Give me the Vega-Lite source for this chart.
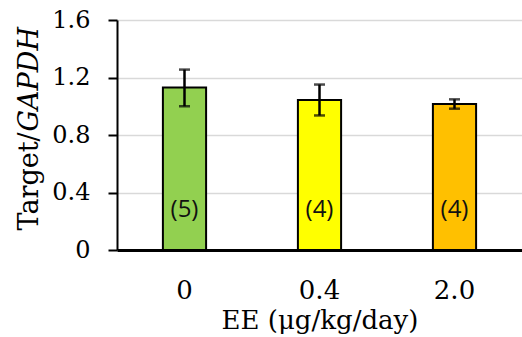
{
  "$schema": "https://vega.github.io/schema/vega-lite/v6.json",
  "width": 405,
  "height": 230,
  "autosize": {"type": "none"},
  "padding": {"left": 117, "top": 20, "right": 0, "bottom": 87},
  "background": "white",
  "config": {
    "view": {"stroke": null},
    "font": "DejaVu Serif"
  },
  "data": {
    "values": [
      {"dose": "0", "mean": 1.13, "lo": 1.0, "hi": 1.255, "n": "(5)"},
      {"dose": "0.4", "mean": 1.043, "lo": 0.936, "hi": 1.151, "n": "(4)"},
      {"dose": "2.0", "mean": 1.016, "lo": 0.983, "hi": 1.048, "n": "(4)"}
    ]
  },
  "encoding": {
    "x": {
      "field": "dose",
      "type": "nominal",
      "sort": ["0", "0.4", "2.0"],
      "scale": {"paddingInner": 0.68, "paddingOuter": 0.34},
      "axis": {
        "title": "EE (μg/kg/day)",
        "labelAngle": 0,
        "labelFont": "DejaVu Serif",
        "labelFontSize": 26,
        "labelColor": "black",
        "labelBaseline": "alphabetic",
        "labelPadding": 48,
        "ticks": false,
        "tickSize": 0,
        "domainColor": "black",
        "domainWidth": 3,
        "titleFont": "DejaVu Serif",
        "titleFontSize": 26,
        "titleFontWeight": "normal",
        "titleColor": "black",
        "titleBaseline": "alphabetic",
        "titleY": 78
      }
    }
  },
  "layer": [
    {
      "mark": {"type": "bar", "stroke": "black", "strokeWidth": 2},
      "encoding": {
        "y": {
          "field": "mean",
          "type": "quantitative",
          "scale": {"domain": [0, 1.6], "nice": false},
          "axis": {
            "title": "Target/",
            "values": [0, 0.4, 0.8, 1.2, 1.6],
            "labelExpr": "datum.value == 0 ? '0' : format(datum.value, '.1f')",
            "labelFont": "DejaVu Serif",
            "labelFontSize": 24,
            "labelColor": "black",
            "labelPadding": 18,
            "tickColor": "black",
            "tickWidth": 2,
            "tickSize": 9,
            "domainColor": "black",
            "domainWidth": 2,
            "grid": true,
            "gridColor": "#d9d9d9",
            "gridWidth": 1.5,
            "titleFont": "DejaVu Serif",
            "titleFontSize": 27,
            "titleFontWeight": "normal",
            "titleColor": "black",
            "titleAngle": -90,
            "titleAlign": "left",
            "titleBaseline": "alphabetic",
            "titleX": -80,
            "titleY": 210
          }
        },
        "color": {
          "field": "dose",
          "type": "nominal",
          "scale": {"domain": ["0", "0.4", "2.0"], "range": ["#92D050", "#FFFF00", "#FFC000"]},
          "legend": null
        }
      }
    },
    {
      "mark": {"type": "errorbar", "ticks": {"size": 11, "thickness": 2.5, "color": "black"}, "rule": {"strokeWidth": 2.5, "color": "black"}},
      "encoding": {
        "y": {
          "field": "lo",
          "type": "quantitative",
          "axis": {
            "orient": "left",
            "title": "GAPDH",
            "labels": false,
            "ticks": false,
            "domain": false,
            "grid": false,
            "titleFont": "DejaVu Serif",
            "titleFontSize": 27,
            "titleFontWeight": "normal",
            "titleFontStyle": "italic",
            "titleColor": "black",
            "titleAngle": -90,
            "titleAlign": "left",
            "titleBaseline": "alphabetic",
            "titleX": -80,
            "titleY": 111
          }
        },
        "y2": {"field": "hi"}
      }
    },
    {
      "mark": {"type": "text", "font": "Open Sans", "fontSize": 24, "color": "#111111", "baseline": "middle"},
      "encoding": {
        "y": {"datum": 0.28, "type": "quantitative", "axis": null},
        "text": {"field": "n"}
      }
    }
  ],
  "resolve": {"axis": {"y": "independent"}}
}
